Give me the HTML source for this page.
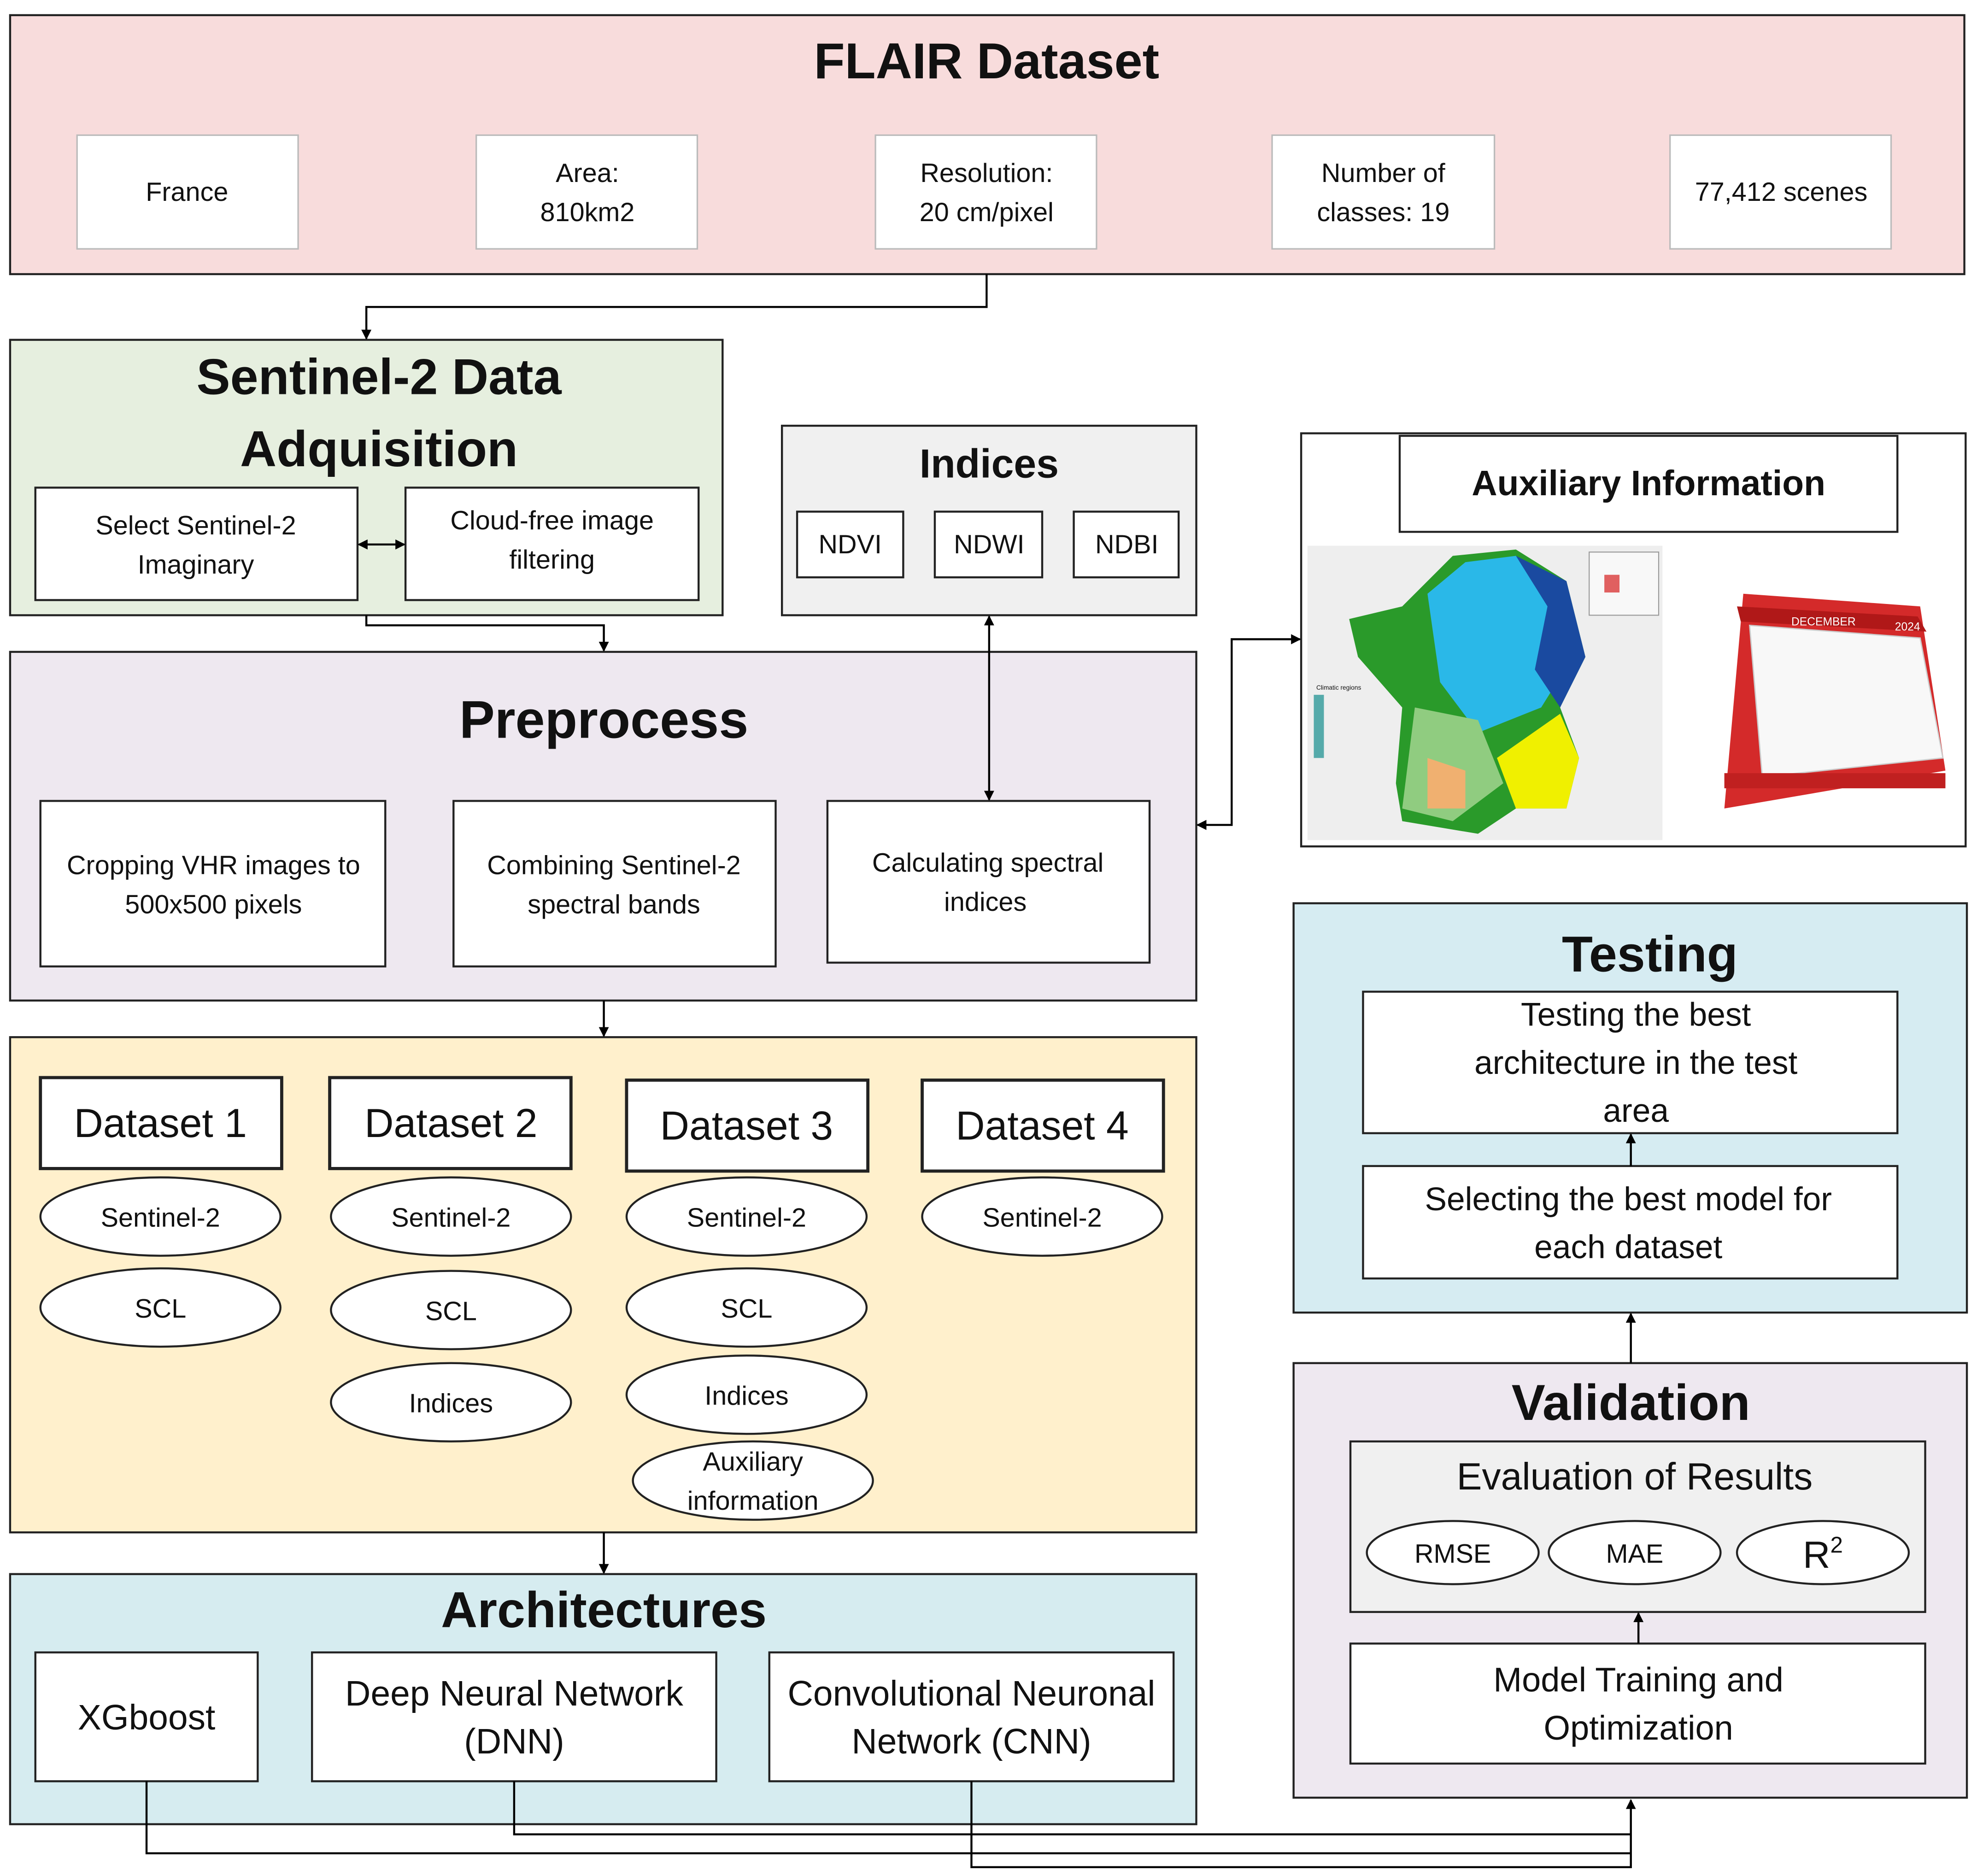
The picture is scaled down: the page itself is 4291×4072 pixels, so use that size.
<!DOCTYPE html>
<html><head><meta charset="utf-8">
<style>
html,body{margin:0;padding:0;background:#fff;}
svg{display:block;}
text{font-family:"Liberation Sans",sans-serif;fill:#111;}
.b{font-weight:bold;}
</style></head><body>
<svg width="4291" height="4072" viewBox="0 0 1565 1485" preserveAspectRatio="none" xmlns="http://www.w3.org/2000/svg">
<defs>
<marker id="ar" markerWidth="8" markerHeight="8" refX="7" refY="4" orient="auto" markerUnits="userSpaceOnUse"><path d="M0,0 L8,4 L0,8 z" fill="#000"/></marker>
<marker id="as" markerWidth="8" markerHeight="8" refX="1" refY="4" orient="auto" markerUnits="userSpaceOnUse"><path d="M8,0 L0,4 L8,8 z" fill="#000"/></marker>
</defs>
<g stroke="#222" stroke-width="1.6">
<!-- FLAIR -->
<rect x="8" y="12" width="1547" height="205" fill="#f8dcdc"/>
<g fill="#fff" stroke="#bbb" stroke-width="1.2">
<rect x="61" y="107" width="175" height="90"/><rect x="377" y="107" width="175" height="90"/>
<rect x="693" y="107" width="175" height="90"/><rect x="1007" y="107" width="176" height="90"/>
<rect x="1322" y="107" width="175" height="90"/></g>
<!-- Sentinel -->
<rect x="8" y="269" width="564" height="218" fill="#e6efdf"/>
<rect x="28" y="386" width="255" height="89" fill="#fff"/>
<rect x="321" y="386" width="232" height="89" fill="#fff"/>
<!-- Indices -->
<rect x="619" y="337" width="328" height="150" fill="#f0f0f0"/>
<rect x="631" y="405" width="84" height="52" fill="#fff"/>
<rect x="740" y="405" width="85" height="52" fill="#fff"/>
<rect x="850" y="405" width="83" height="52" fill="#fff"/>
<!-- Preprocess -->
<rect x="8" y="516" width="939" height="276" fill="#eee8f0"/>
<rect x="32" y="634" width="273" height="131" fill="#fff"/>
<rect x="359" y="634" width="255" height="131" fill="#fff"/>
<rect x="655" y="634" width="255" height="128" fill="#fff"/>
<!-- Datasets -->
<rect x="8" y="821" width="939" height="392" fill="#fff0cc"/>
<g stroke-width="2.5" fill="#fff">
<rect x="32" y="853" width="191" height="72"/><rect x="261" y="853" width="191" height="72"/>
<rect x="496" y="855" width="191" height="72"/><rect x="730" y="855" width="191" height="72"/></g>
<g fill="#fff">
<ellipse cx="127" cy="963" rx="95" ry="31"/><ellipse cx="127" cy="1035" rx="95" ry="31"/>
<ellipse cx="357" cy="963" rx="95" ry="31"/><ellipse cx="357" cy="1037" rx="95" ry="31"/><ellipse cx="357" cy="1110" rx="95" ry="31"/>
<ellipse cx="591" cy="963" rx="95" ry="31"/><ellipse cx="591" cy="1035" rx="95" ry="31"/><ellipse cx="591" cy="1104" rx="95" ry="31"/><ellipse cx="596" cy="1172" rx="95" ry="31"/>
<ellipse cx="825" cy="963" rx="95" ry="31"/></g>
<!-- Architectures -->
<rect x="8" y="1246" width="939" height="198" fill="#d6ecf0"/>
<rect x="28" y="1308" width="176" height="102" fill="#fff"/>
<rect x="247" y="1308" width="320" height="102" fill="#fff"/>
<rect x="609" y="1308" width="320" height="102" fill="#fff"/>
<!-- Auxiliary -->
<rect x="1030" y="343" width="526" height="327" fill="#fff"/>
<rect x="1108" y="345" width="394" height="76" fill="#fff"/>
<!-- Testing -->
<rect x="1024" y="715" width="533" height="324" fill="#d6ecf2"/>
<rect x="1079" y="785" width="423" height="112" fill="#fff"/>
<rect x="1079" y="923" width="423" height="89" fill="#fff"/>
<!-- Validation -->
<rect x="1024" y="1079" width="533" height="344" fill="#eee8f0"/>
<rect x="1069" y="1141" width="455" height="135" fill="#f0f0f0"/>
<g fill="#fff"><ellipse cx="1150" cy="1229" rx="68" ry="25"/><ellipse cx="1294" cy="1229" rx="68" ry="25"/><ellipse cx="1443" cy="1229" rx="68" ry="25"/></g>
<rect x="1069" y="1301" width="455" height="95" fill="#fff"/>
</g>
<!-- map -->
<g stroke="none">
<rect x="1035" y="432" width="281" height="233" fill="#eeeeee"/>
<path d="M1068,490 L1110,480 L1150,440 L1200,435 L1240,460 L1255,520 L1235,560 L1250,600 L1240,640 L1200,640 L1170,660 L1110,650 L1105,620 L1110,560 L1075,520 z" fill="#2a9a2a"/>
<path d="M1130,470 L1160,445 L1200,440 L1235,470 L1245,520 L1220,560 L1170,580 L1140,540 z" fill="#2ab8e8"/>
<path d="M1200,440 L1240,460 L1255,520 L1235,560 L1215,530 L1225,480 z" fill="#1a4aa0"/>
<path d="M1120,560 L1170,570 L1190,620 L1150,650 L1110,640 z" fill="#90cc80"/>
<path d="M1185,600 L1235,565 L1250,600 L1240,640 L1200,640 z" fill="#f0f000"/>
<path d="M1130,600 L1160,610 L1160,640 L1130,640 z" fill="#f0b070"/>
<rect x="1258" y="437" width="55" height="50" fill="#f8f8f8" stroke="#999" stroke-width="0.8"/>
<rect x="1270" y="455" width="12" height="14" fill="#e06060"/>
<rect x="1040" y="550" width="8" height="50" fill="#5aa"/>
<!-- calendar -->
<path d="M1365,640 L1380,470 L1520,480 L1540,610 z" fill="#d42a2a"/>
<path d="M1375,480 L1518,488 L1525,500 L1378,492 z" fill="#b01818"/>
<path d="M1385,495 L1520,505 L1538,600 L1395,615 z" fill="#f8f8f8" stroke="#ccc" stroke-width="1"/>
<rect x="1365" y="612" width="175" height="12" fill="#c02020"/>
</g>
<!-- connectors -->
<g stroke="#000" stroke-width="1.6" fill="none">
<path d="M781,217 V243 H290 V268" marker-end="url(#ar)"/>
<path d="M284,431 H320" marker-start="url(#as)" marker-end="url(#ar)"/>
<path d="M290,487 V495 H478 V515" marker-end="url(#ar)"/>
<path d="M783,488 V633" marker-start="url(#as)" marker-end="url(#ar)"/>
<path d="M478,792 V820" marker-end="url(#ar)"/>
<path d="M478,1213 V1245" marker-end="url(#ar)"/>
<path d="M948,653 H975 V506 H1029" marker-start="url(#as)" marker-end="url(#ar)"/>
<path d="M1291,923 V898" marker-end="url(#ar)"/>
<path d="M1291,1079 V1040" marker-end="url(#ar)"/>
<path d="M1297,1301 V1277" marker-end="url(#ar)"/>
<path d="M116,1410 V1467 H1291"/>
<path d="M407,1410 V1452 H1291"/>
<path d="M769,1410 V1478 H1291 V1425" marker-end="url(#ar)"/>
</g>
<!-- text -->
<g text-anchor="middle">
<text x="781" y="62" font-size="40" class="b">FLAIR Dataset</text>
<g font-size="21">
<text x="148" y="159">France</text>
<text x="465" y="144">Area:</text><text x="465" y="175">810km2</text>
<text x="781" y="144">Resolution:</text><text x="781" y="175">20 cm/pixel</text>
<text x="1095" y="144">Number of</text><text x="1095" y="175">classes: 19</text>
<text x="1410" y="159">77,412 scenes</text>
<text x="155" y="423">Select Sentinel-2</text><text x="155" y="454">Imaginary</text>
<text x="437" y="419">Cloud-free image</text><text x="437" y="450">filtering</text>
<text x="673" y="438">NDVI</text><text x="783" y="438">NDWI</text><text x="892" y="438">NDBI</text>
<text x="169" y="692">Cropping VHR images to</text><text x="169" y="723">500x500 pixels</text>
<text x="486" y="692">Combining Sentinel-2</text><text x="486" y="723">spectral bands</text>
<text x="782" y="690">Calculating spectral</text><text x="780" y="721">indices</text>
<text x="127" y="971">Sentinel-2</text><text x="127" y="1043">SCL</text>
<text x="357" y="971">Sentinel-2</text><text x="357" y="1045">SCL</text><text x="357" y="1118">Indices</text>
<text x="591" y="971">Sentinel-2</text><text x="591" y="1043">SCL</text><text x="591" y="1112">Indices</text>
<text x="596" y="1164">Auxiliary</text><text x="596" y="1195">information</text>
<text x="825" y="971">Sentinel-2</text>
</g>
<text x="300" y="312" font-size="40" class="b">Sentinel-2 Data</text>
<text x="300" y="369" font-size="40" class="b">Adquisition</text>
<text x="783" y="378" font-size="32" class="b">Indices</text>
<text x="478" y="584" font-size="42" class="b">Preprocess</text>
<g font-size="32"><text x="127" y="900">Dataset 1</text><text x="357" y="900">Dataset 2</text><text x="591" y="902">Dataset 3</text><text x="825" y="902">Dataset 4</text></g>
<text x="478" y="1288" font-size="40" class="b">Architectures</text>
<g font-size="28">
<text x="116" y="1369">XGboost</text>
<text x="407" y="1350">Deep Neural Network</text><text x="407" y="1388">(DNN)</text>
<text x="769" y="1350">Convolutional Neuronal</text><text x="769" y="1388">Network (CNN)</text>
</g>
<text x="1305" y="392" font-size="28" class="b">Auxiliary Information</text>
<text x="1306" y="769" font-size="40" class="b">Testing</text>
<g font-size="26">
<text x="1295" y="812">Testing the best</text><text x="1295" y="850">architecture in the test</text><text x="1295" y="888">area</text>
<text x="1289" y="958">Selecting the best model for</text><text x="1289" y="996">each dataset</text>
</g>
<text x="1291" y="1124" font-size="40" class="b">Validation</text>
<text x="1294" y="1179" font-size="30">Evaluation of Results</text>
<g font-size="21"><text x="1150" y="1237">RMSE</text><text x="1294" y="1237">MAE</text></g>
<text x="1443" y="1241" font-size="30">R<tspan font-size="18" dy="-12">2</tspan></text>
<g font-size="27"><text x="1297" y="1339">Model Training and</text><text x="1297" y="1377">Optimization</text></g>
</g>
<g font-size="5" fill="#333"><text x="1042" y="546">Climatic regions</text></g>
<text x="1418" y="495" font-size="9" fill="#fff" style="fill:#fff">DECEMBER</text>
<text x="1500" y="499" font-size="9" style="fill:#fff">2024</text>
</svg>
</body></html>
